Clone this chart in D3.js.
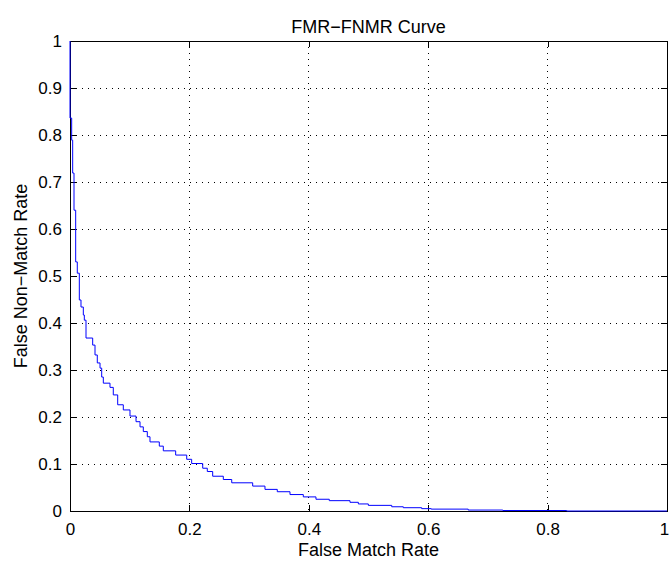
<!DOCTYPE html>
<html>
<head>
<meta charset="utf-8">
<script src="https://cdn.jsdelivr.net/npm/d3@7"></script>
<style>
  body { margin: 0; background: #fff; }
  svg { display: block; font-family: "Liberation Sans", Arial, sans-serif; }
</style>
</head>
<body>
<script>
// staircase vertices: at each fmr value the fnmr drops to the given level
const fmr = [0, 0, 0.0028, 0.0045, 0.0067, 0.0095, 0.0122, 0.0156, 0.0184, 0.0223, 0.024,
  0.0268, 0.038, 0.0419, 0.0457, 0.0503, 0.0531, 0.0558, 0.067, 0.0725, 0.0799, 0.0893,
  0.1005, 0.1106, 0.1173, 0.1228, 0.1295, 0.134, 0.1496, 0.1563, 0.177, 0.1955, 0.2038,
  0.2223, 0.23, 0.239, 0.2568, 0.2709, 0.306, 0.3266, 0.3472, 0.3685, 0.3908, 0.412,
  0.4343, 0.469, 0.483, 0.4997, 0.5389, 0.5583, 0.5891, 0.605, 0.667, 0.725, 0.832, 1];
const fnmr = [1, 0.836, 0.789, 0.719, 0.640, 0.530, 0.506, 0.449, 0.434, 0.417, 0.406,
  0.368, 0.353, 0.332, 0.315, 0.304, 0.285, 0.272, 0.263, 0.247, 0.226, 0.215,
  0.202, 0.19, 0.179, 0.169, 0.158, 0.147, 0.138, 0.128, 0.119, 0.11, 0.101,
  0.091, 0.084, 0.074, 0.067, 0.06, 0.053, 0.046, 0.041, 0.035, 0.030, 0.025,
  0.022, 0.0185, 0.015, 0.012, 0.009, 0.007, 0.005, 0.004, 0.002, 0.001, 0, 0];
const xTicks = [0, 0.2, 0.4, 0.6, 0.8, 1];
const yTicks = [0, 0.1, 0.2, 0.3, 0.4, 0.5, 0.6, 0.7, 0.8, 0.9, 1];

const width = 669, height = 561;
const margin = { top: 41, right: 2, bottom: 50, left: 70 };

const svg = d3.select('body').append('svg')
  .attr('width', width)
  .attr('height', height);

const xscale = d3.scaleLinear().domain([0, 1]).range([margin.left, width - margin.right]);
const yscale = d3.scaleLinear().domain([0, 1]).range([height - margin.bottom, margin.top]);

const x0 = xscale(0), x1 = xscale(1), y0 = yscale(0), y1 = yscale(1);

// dotted grid
svg.append('g').selectAll('line')
  .data(xTicks.slice(1, -1)).enter().append('line')
  .attr('x1', d => xscale(d)).attr('x2', d => xscale(d))
  .attr('y1', y1).attr('y2', y0)
  .attr('stroke', '#000').attr('stroke-width', 1).attr('stroke-dasharray', '1,5')
  .attr('shape-rendering', 'crispEdges');
svg.append('g').selectAll('line')
  .data(yTicks.slice(1, -1)).enter().append('line')
  .attr('x1', x0).attr('x2', x1)
  .attr('y1', d => yscale(d)).attr('y2', d => yscale(d))
  .attr('stroke', '#000').attr('stroke-width', 1).attr('stroke-dasharray', '1,5')
  .attr('shape-rendering', 'crispEdges');

// axes with inward ticks on all four sides (matlab box)
const tickLen = 6;
const style = g => {
  g.select('.domain').remove();
  g.selectAll('line').attr('stroke', '#000').attr('shape-rendering', 'crispEdges');
  g.selectAll('text').attr('fill', '#000').style('font-size', '17px');
};
svg.append('g')
  .attr('transform', `translate(0, ${y0})`)
  .call(d3.axisBottom(xscale).tickValues(xTicks).tickFormat(d3.format('')).tickSize(-tickLen).tickPadding(12))
  .call(style)
  .selectAll('text').filter(d => d === 1).attr('dx', -3);  // keep the last label inside the frame
svg.append('g')
  .attr('transform', `translate(0, ${y1})`)
  .call(d3.axisTop(xscale).tickValues(xTicks).tickFormat('').tickSize(-tickLen))
  .call(style);
svg.append('g')
  .attr('transform', `translate(${x0}, 0)`)
  .call(d3.axisLeft(yscale).tickValues(yTicks).tickFormat(d3.format('')).tickSize(-tickLen).tickPadding(8))
  .call(style);
svg.append('g')
  .attr('transform', `translate(${x1}, 0)`)
  .call(d3.axisRight(yscale).tickValues(yTicks).tickFormat('').tickSize(-tickLen))
  .call(style);

svg.append('rect')
  .attr('x', x0).attr('y', y1)
  .attr('width', x1 - x0).attr('height', y0 - y1)
  .attr('fill', 'none').attr('stroke', '#000').attr('stroke-width', 1)
  .attr('shape-rendering', 'crispEdges');

// the curve
const pts = fmr.map((d, i) => [d, fnmr[i]]);
const line = d3.line()
  .x(d => xscale(d[0]))
  .y(d => yscale(d[1]))
  .curve(d3.curveStepAfter);
svg.append('path')
  .datum(pts)
  .attr('d', line)
  .attr('fill', 'none')
  .attr('stroke', '#0000ff')
  .attr('stroke-width', 1);

// labels
svg.append('text')
  .text('FMR\u2212FNMR Curve')
  .attr('x', (x0 + x1) / 2).attr('y', 33)
  .attr('text-anchor', 'middle').style('font-size', '18px');
svg.append('text')
  .text('False Match Rate')
  .attr('x', (x0 + x1) / 2).attr('y', 556)
  .attr('text-anchor', 'middle').style('font-size', '18px');
svg.append('text')
  .text('False Non\u2212Match Rate')
  .attr('transform', `translate(27, ${(y0 + y1) / 2}) rotate(-90)`)
  .attr('text-anchor', 'middle').style('font-size', '18px');
</script>
</body>
</html>
